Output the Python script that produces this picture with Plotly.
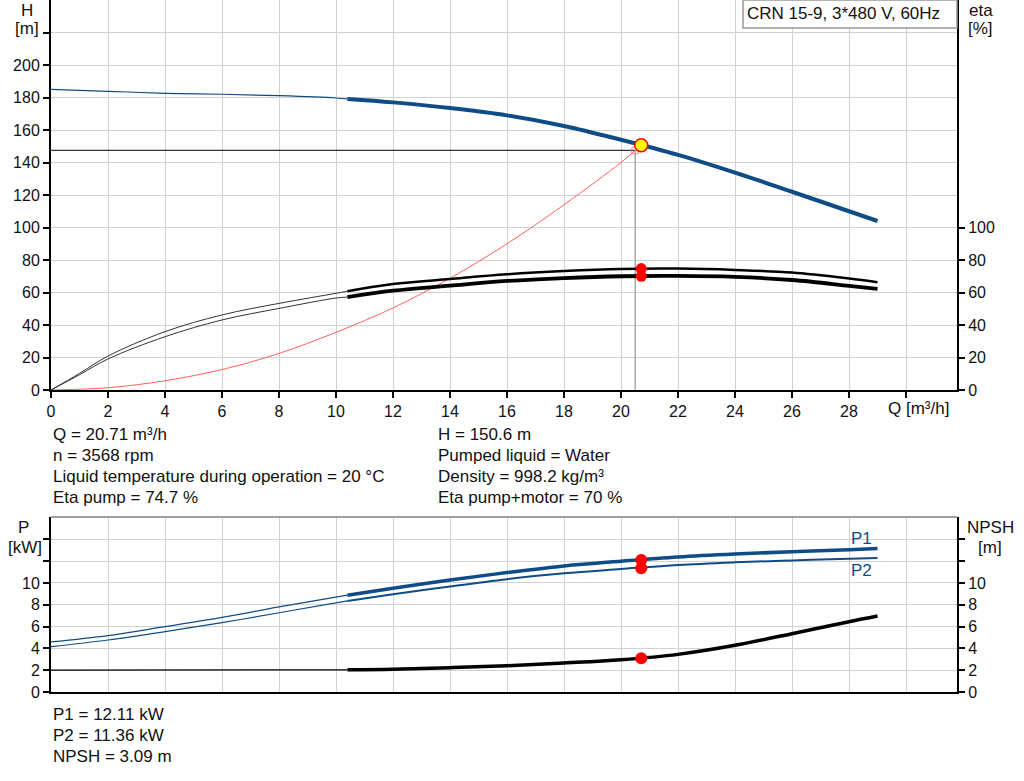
import plotly.graph_objects as go

# ---- data ----
q_thin = [0, 2, 4, 6, 8, 10, 10.4]
h_thin = [185.0, 183.8, 182.6, 182.0, 181.1, 179.7, 179.1]
q_thick = [10.4, 12, 14, 16, 18, 20, 22, 24, 26, 28, 29]
h_thick = [179.1, 177.0, 173.5, 169.0, 162.5, 154.0, 144.7, 133.8, 122.0, 110.0, 104.0]

q_eta_thin = [0, 1, 2, 4, 6, 8, 10, 10.4]
eta_pump_thin = [0, 10.2, 20.9, 35.9, 46.2, 53.3, 59.5, 60.8]
eta_tot_thin = [0, 9.4, 19.1, 32.8, 43.1, 50.2, 56.6, 57.2]
eta_pump_thick = [60.8, 65.2, 68.3, 71.2, 73.2, 74.5, 74.7, 73.9, 72.3, 68.6, 66.3]
eta_tot_thick = [57.2, 61.1, 64.2, 67.1, 68.9, 70.0, 70.2, 69.6, 67.7, 64.1, 62.2]

q_sys = [0, 2, 4, 6, 8, 10, 12, 14, 16, 18, 20, 20.5]
h_sys = [0, 1.4, 5.7, 12.6, 22.5, 35.5, 50.5, 68.8, 90.0, 114.0, 140.0, 147.5]

q_p_thin = [0, 2, 4, 6, 8, 10.4]
p1_thin = [4.59, 5.17, 5.99, 6.84, 7.80, 8.88]
p2_thin = [4.16, 4.77, 5.53, 6.36, 7.27, 8.35]
p1_thick = [8.88, 9.52, 10.28, 10.95, 11.56, 12.0, 12.39, 12.66, 12.87, 13.05, 13.15]
p2_thick = [8.35, 8.96, 9.68, 10.35, 10.89, 11.28, 11.65, 11.89, 12.07, 12.23, 12.29]

q_npsh_thin = [0, 10.4]
npsh_thin = [2.0, 2.03]
npsh_thick = [2.03, 2.08, 2.23, 2.41, 2.66, 2.96, 3.45, 4.28, 5.35, 6.45, 6.97]

q_op, h_op = 20.71, 150.6
eta_pump_op, eta_tot_op = 74.7, 70.0
p1_op, p2_op, npsh_op = 12.11, 11.36, 3.09
q_sys_end, h_sys_end = 20.5, 147.5

x_ticks = list(range(0, 32, 2))
x_labels = [str(v) for v in x_ticks[:-1]] + [""]
h_ticks = list(range(0, 240, 20))
h_labels = [str(v) for v in h_ticks[:-1]] + [""]
eta_ticks = list(range(0, 120, 20))
p_ticks = list(range(0, 16, 2))
p_labels = [str(v) if v <= 10 else "" for v in p_ticks]

info_left = ["Q = 20.71 m³/h", "n = 3568 rpm",
             "Liquid temperature during operation = 20 °C", "Eta pump = 74.7 %"]
info_right = ["H = 150.6 m", "Pumped liquid = Water",
              "Density = 998.2 kg/m³", "Eta pump+motor = 70 %"]
info_bottom = ["P1 = 12.11 kW", "P2 = 11.36 kW", "NPSH = 3.09 m"]
title_box = "CRN 15-9, 3*480 V, 60Hz"

blue = "#0f4c85"
red = "#ff0000"
grid = "#d2d2d2"
font = "Liberation Sans, Arial, sans-serif"
txt = "#111111"

# pixel helpers (plot area: x 51..957, y 0..692)
L, R, T, B = 51, 957, 0, 692
def px(x):
    return (x - L) / (R - L)
def py(y):
    return (B - y) / (B - T)

fig = go.Figure()

def line(x, y, color, width, xa="x", ya="y"):
    fig.add_trace(go.Scatter(x=x, y=y, mode="lines", xaxis=xa, yaxis=ya,
                             line=dict(color=color, width=width, shape="spline"),
                             hoverinfo="skip", showlegend=False))

def dot(x, y, color, size, xa="x", ya="y", lc=None, lw=0, fill=None):
    fig.add_trace(go.Scatter(x=[x], y=[y], mode="markers", xaxis=xa, yaxis=ya,
                             marker=dict(color=fill or color, size=size,
                                         line=dict(color=lc or color, width=lw)),
                             hoverinfo="skip", showlegend=False))

# duty point guide lines
fig.add_trace(go.Scatter(x=[0, q_sys_end], y=[h_sys_end, h_sys_end], mode="lines",
                         line=dict(color="black", width=1), hoverinfo="skip", showlegend=False))
fig.add_trace(go.Scatter(x=[q_sys_end, q_sys_end], y=[0, h_sys_end], mode="lines",
                         line=dict(color="#a8a8a8", width=1.5), hoverinfo="skip", showlegend=False))

# system curve
line(q_sys, h_sys, "#ff6060", 1)

# efficiency curves
line(q_eta_thin, eta_pump_thin, "#333333", 1, ya="y2")
line(q_eta_thin, eta_tot_thin, "#333333", 1, ya="y2")
line(q_thick, eta_pump_thick, "black", 2.5, ya="y2")
line(q_thick, eta_tot_thick, "black", 3.8, ya="y2")

# head curve
line(q_thin, h_thin, blue, 1.2)
line(q_thick, h_thick, blue, 4)

dot(q_sys_end, h_sys_end, "#f08080", 8, lc="#f08080", lw=1, fill="rgba(0,0,0,0)")
dot(q_op, eta_pump_op, red, 11, ya="y2")
dot(q_op, eta_tot_op, red, 11, ya="y2")
dot(q_op, h_op, red, 13, lc=red, lw=1.5, fill="#ffff00")

# power and NPSH
line(q_p_thin, p1_thin, blue, 1.2, xa="x2", ya="y3")
line(q_p_thin, p2_thin, blue, 1.2, xa="x2", ya="y3")
line(q_thick, p1_thick, blue, 3.5, xa="x2", ya="y3")
line(q_thick, p2_thick, blue, 2, xa="x2", ya="y3")
line(q_npsh_thin, npsh_thin, "black", 1.2, xa="x2", ya="y4")
line(q_thick, npsh_thick, "black", 3.5, xa="x2", ya="y4")
dot(q_op, p1_op, red, 12, xa="x2", ya="y3")
dot(q_op, p2_op, red, 12, xa="x2", ya="y3")
dot(q_op, npsh_op, red, 12, xa="x2", ya="y4")

x_range = [0, (R - L) / 28.5]
axis_common = dict(showline=True, linecolor="black", linewidth=2, ticks="outside",
                   ticklen=6, tickcolor="black", tickwidth=1.5, zeroline=False,
                   tickfont=dict(size=16, color=txt, family=font))

fig.update_layout(
    width=1024, height=781,
    margin=dict(l=L, r=1024 - R, t=T, b=781 - B, autoexpand=False),
    paper_bgcolor="white", plot_bgcolor="white",
    font=dict(family=font, size=16, color=txt),
    showlegend=False,
    xaxis=dict(domain=[0, 1], anchor="y", range=x_range, tickmode="array",
               tickvals=x_ticks, ticktext=x_labels, showgrid=True, gridcolor=grid,
               gridwidth=1, **axis_common),
    yaxis=dict(domain=[py(390), 1], anchor="x", range=[0, 240], tickmode="array",
               tickvals=h_ticks, ticktext=h_labels, showgrid=True, gridcolor=grid,
               **axis_common),
    yaxis2=dict(overlaying="y", side="right", anchor="x", range=[0, 240],
                tickmode="array", tickvals=eta_ticks, showgrid=False, **axis_common),
    xaxis2=dict(domain=[0, 1], anchor="y3", range=x_range, tickmode="array",
                tickvals=x_ticks, showticklabels=False, showgrid=True, gridcolor=grid,
                showline=True, linecolor="black", linewidth=2, zeroline=False, ticks=""),
    yaxis3=dict(domain=[0, py(517)], anchor="x2", range=[0, 16.05], tickmode="array",
                tickvals=p_ticks, ticktext=p_labels, showgrid=True, gridcolor=grid,
                **axis_common),
    yaxis4=dict(overlaying="y3", side="right", anchor="x2", range=[0, 16.05],
                tickmode="array", tickvals=p_ticks, ticktext=p_labels, showgrid=False,
                **axis_common),
)

# top border of the lower chart
fig.add_shape(type="line", xref="paper", yref="paper", x0=0, x1=1, y0=py(517), y1=py(517),
              line=dict(color="#a0a0a0", width=2))

def note(text, x, y, anchor="left", color=txt, size=17):
    fig.add_annotation(text=text, xref="paper", yref="paper", x=px(x), y=py(y),
                       xanchor=anchor, yanchor="middle", showarrow=False,
                       font=dict(size=size, color=color, family=font))

note("H", 27, 10, "center")
note("[m]", 27, 29, "center")
note("eta", 981, 10, "center")
note("[%]", 980, 29, "center")
note("Q [m³/h]", 918, 408, "center")
note("P", 23, 527, "center")
note("[kW]", 25, 547, "center")
note("NPSH", 990, 527, "center")
note("[m]", 990, 547, "center")
note("P1", 861, 538, "center", color=blue)
note("P2", 861, 570, "center", color=blue)

for i, t in enumerate(info_left):
    note(t, 51, 434 + 21 * i)
for i, t in enumerate(info_right):
    note(t, 436, 434 + 21 * i)
for i, t in enumerate(info_bottom):
    note(t, 51, 714 + 21 * i)

fig.add_shape(type="rect", xref="paper", yref="paper", x0=px(743), x1=px(957),
              y0=py(28), y1=py(0), line=dict(color="#999999", width=1.5),
              fillcolor="white", layer="above")
note(title_box, 745, 14)

# drop the default page margin so the figure sits at the window corner
fig.write_html("out.html", config={"displayModeBar": False},
               post_script="document.body.style.margin='0px';")
